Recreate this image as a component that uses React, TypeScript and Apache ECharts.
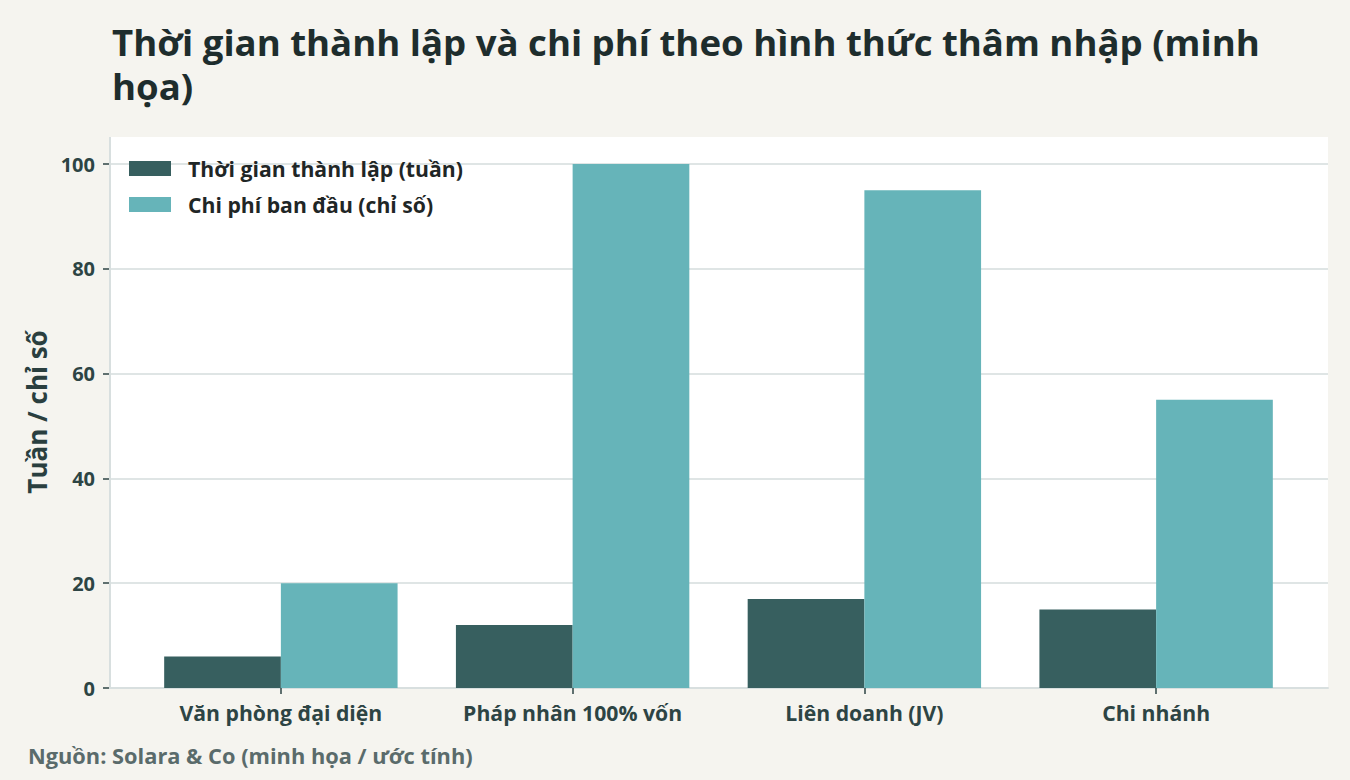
import React, { useEffect, useRef } from "react";
import * as echarts from "echarts";

const categories = ["Văn phòng đại diện", "Pháp nhân 100% vốn", "Liên doanh (JV)", "Chi nhánh"];
const setupWeeks = [6, 12, 17, 15];
const initialCost = [20, 100, 95, 55];
const seriesNames = ["Thời gian thành lập (tuần)", "Chi phí ban đầu (chỉ số)"];
const titleText = "Thời gian thành lập và chi phí theo hình thức thâm nhập (minh\nhọa)";
const yAxisName = "Tuần / chỉ số";
const sourceText = "Nguồn: Solara & Co (minh họa / ước tính)";

const FONT = "'Open Sans', 'Noto Sans', sans-serif";
const DARK = "#375f5f";
const LIGHT = "#66b4b9";
const BG = "#f5f4ef";
const GRIDC = "#dfe5e5";
const AXISC = "#d8dfdf";
const LABELC = "#2d4444";

export default function App() {
  const ref = useRef<HTMLDivElement>(null);
  useEffect(() => {
    if (!ref.current) return;
    const chart = echarts.init(ref.current, undefined, { renderer: "svg" });
    chart.setOption({
      animation: false,
      backgroundColor: BG,
      textStyle: { fontFamily: FONT },
      title: {
        text: titleText,
        left: 112,
        top: 20,
        padding: 0,
        textStyle: { fontFamily: FONT, fontSize: 36.6, fontWeight: "bold", color: "#1e2d2d", lineHeight: 44 },
      },
      legend: {
        orient: "vertical",
        left: 129,
        top: 158,
        padding: 0,
        itemWidth: 42,
        itemHeight: 15,
        itemGap: 15,
        icon: "rect",
        data: seriesNames,
        textStyle: { fontFamily: FONT, fontSize: 21.2, fontWeight: "bold", color: "#1f2626", lineHeight: 20, padding: [0, 0, 0, 12] },
      },
      graphic: [
        { type: "rect", z: -10, shape: { x: 110, y: 137, width: 1218, height: 551 }, style: { fill: "#ffffff" } },
        { type: "line", z: 5, shape: { x1: 110, y1: 137, x2: 110, y2: 689 }, style: { stroke: AXISC, lineWidth: 2 } },
        {
          type: "text",
          x: 37,
          y: 412,
          rotation: Math.PI / 2,
          style: { text: yAxisName, fontFamily: FONT, fontSize: 26, fontWeight: "bold", fill: "#2a3f3f", align: "center", verticalAlign: "middle" },
        },
        {
          type: "text",
          x: 28,
          y: 755,
          style: { text: sourceText, fontFamily: FONT, fontSize: 21.8, fontWeight: "bold", fill: "#5a6b6b", align: "left", verticalAlign: "middle" },
        },
      ],
      grid: [
        { left: 110, right: 22, top: 164, bottom: 92, containLabel: false },
        { left: 135, right: 48, top: 164, bottom: 92, containLabel: false },
      ],
      xAxis: [
        {
          type: "value",
          gridIndex: 0,
          min: 0,
          max: 1,
          axisLine: { show: true, lineStyle: { color: AXISC, width: 2 } },
          axisTick: { show: false },
          axisLabel: { show: false },
          splitLine: { show: false },
        },
        {
          type: "category",
          gridIndex: 1,
          data: categories,
          axisLine: { show: false },
          axisTick: { show: true, alignWithLabel: true, length: 6, lineStyle: { color: LABELC, width: 1.5 } },
          axisLabel: { fontFamily: FONT, fontSize: 21.2, fontWeight: "bold", color: LABELC, margin: 14 },
          splitLine: { show: false },
        },
      ],
      yAxis: [
        {
          type: "value",
          gridIndex: 0,
          min: 0,
          max: 100,
          interval: 20,
          axisLine: { show: false },
          axisTick: { show: true, length: 7, lineStyle: { color: LABELC, width: 1.5 } },
          axisLabel: { fontFamily: FONT, fontSize: 20, fontWeight: "bold", color: LABELC, margin: 15 },
          splitLine: { show: true, lineStyle: { color: GRIDC, width: 2 } },
        },
        {
          type: "value",
          gridIndex: 1,
          min: 0,
          max: 100,
          interval: 20,
          show: false,
          splitLine: { show: false },
        },
      ],
      series: [
        {
          name: seriesNames[0],
          type: "bar",
          xAxisIndex: 1,
          yAxisIndex: 1,
          data: setupWeeks,
          barGap: "0%",
          barCategoryGap: "20%",
          itemStyle: { color: DARK },
          z: 3,
        },
        {
          name: seriesNames[1],
          type: "bar",
          xAxisIndex: 1,
          yAxisIndex: 1,
          data: initialCost,
          barGap: "0%",
          barCategoryGap: "20%",
          itemStyle: { color: LIGHT },
          z: 3,
        },
      ],
    });
    return () => chart.dispose();
  }, []);
  return <div ref={ref} style={{ position: "fixed", left: 0, top: 0, width: 1350, height: 780 }} />;
}
